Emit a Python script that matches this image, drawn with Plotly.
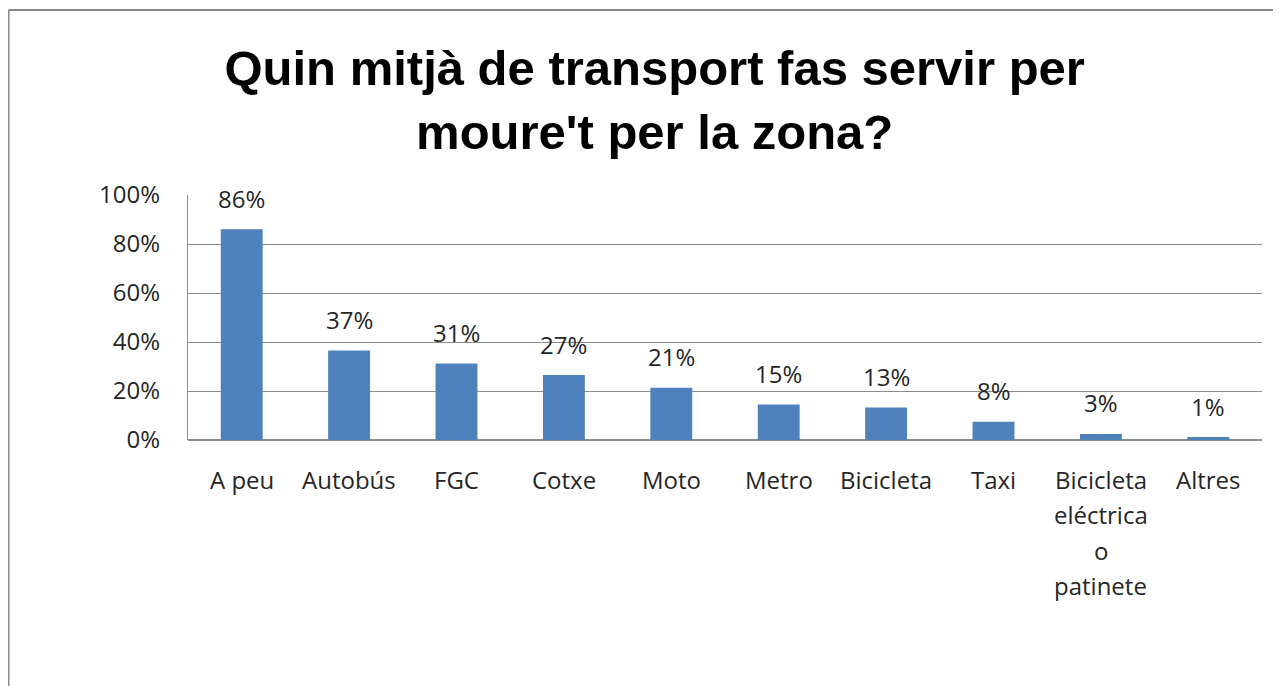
import plotly.graph_objects as go

categories = ["A peu", "Autobús", "FGC", "Cotxe", "Moto", "Metro", "Bicicleta", "Taxi",
              "Bicicleta\neléctrica\no\npatinete", "Altres"]
values = [0.86, 0.365, 0.312, 0.265, 0.213, 0.145, 0.133, 0.075, 0.025, 0.012]
value_labels = ["86%", "37%", "31%", "27%", "21%", "15%", "13%", "8%", "3%", "1%"]
y_ticks = [0, 0.2, 0.4, 0.6, 0.8, 1.0]
y_tick_labels = ["0%", "20%", "40%", "60%", "80%", "100%"]
title_text = "Quin mitjà de transport fas servir per<br>moure't per la zona?"

FONT = "Open Sans"
TXT = "#262626"
GRID = "#8c8c8c"

fig = go.Figure()
fig.add_trace(go.Bar(
    x=list(range(len(categories))), y=values,
    marker=dict(color="#4F81BD", line=dict(width=0)),
    width=0.39, hoverinfo="skip",
))

annotations = []
for i, (v, t) in enumerate(zip(values, value_labels)):
    annotations.append(dict(x=i, y=v, xref="x", yref="y", text=t, showarrow=False,
                            yanchor="middle", yshift=31,
                            font=dict(family=FONT, size=24, color=TXT)))
for i, c in enumerate(categories):
    for j, line in enumerate(c.split("\n")):
        annotations.append(dict(x=i, y=0, xref="x", yref="y", text=line, showarrow=False,
                                yanchor="middle", yshift=-39 - 35.5 * j,
                                font=dict(family=FONT, size=24, color=TXT)))

# chart frame (top and left edges)
shapes = [
    dict(type="line", xref="paper", yref="paper", x0=-0.1671, x1=1.02, y0=1.755, y1=1.755,
         line=dict(color="#8a8a8a", width=2)),
    dict(type="line", xref="paper", yref="paper", x0=-0.1671, x1=-0.1671, y0=1.755, y1=-1.01,
         line=dict(color="#8a8a8a", width=2)),
]

fig.update_layout(
    width=1273, height=678,
    margin=dict(l=180, r=19, t=187, b=246),
    paper_bgcolor="white", plot_bgcolor="white",
    showlegend=False,
    title=dict(text=title_text, x=0.508, xanchor="center", y=0.886, yanchor="middle",
               font=dict(family="Liberation Sans, Arial", size=49, color="black",
                         weight="bold")),
    annotations=annotations,
    shapes=shapes,
)
fig.update_xaxes(range=[-0.5, len(categories) - 0.5], showticklabels=False, showgrid=False,
                 zeroline=False, showline=False, ticks="")
fig.update_yaxes(range=[0, 1.0], tickvals=y_ticks, ticktext=y_tick_labels,
                 showgrid=True, gridcolor=GRID, gridwidth=1.3,
                 zeroline=True, zerolinecolor=GRID, zerolinewidth=1.5,
                 showline=True, linecolor=GRID, linewidth=1.3,
                 ticks="", ticklabelstandoff=22,
                 tickfont=dict(family=FONT, size=24, color=TXT))

fig.write_html("out.html")
